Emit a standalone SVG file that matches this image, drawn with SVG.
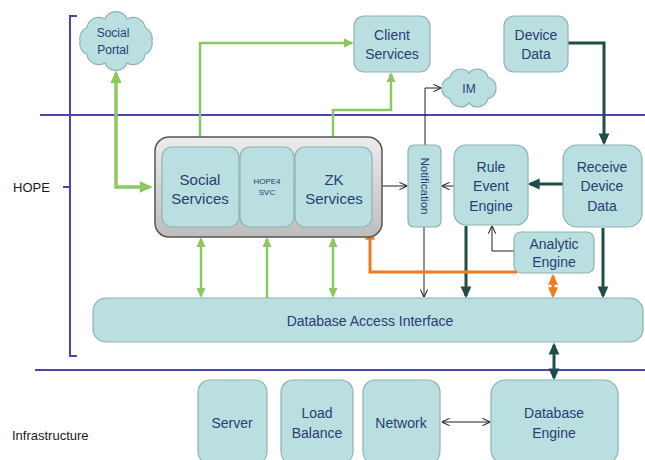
<svg xmlns="http://www.w3.org/2000/svg" width="645" height="460" viewBox="0 0 645 460">
<style>
.box{fill:#b9dfe1;stroke:#8fb1b4;stroke-width:1.2}
.t{font-family:"Liberation Sans",Arial,sans-serif;font-size:14px;fill:#2b3c72;text-anchor:middle}
.lab{font-family:"Liberation Sans",Arial,sans-serif;font-size:13px;fill:#1a1a1a}
.g{fill:none;stroke:#8cc860;stroke-width:2.5}
.dg{fill:none;stroke:#1f4d47;stroke-width:3}
.bk{fill:none;stroke:#222;stroke-width:1}
.or{fill:none;stroke:#f07a1e;stroke-width:3}
.bl{fill:none;stroke:#4b45b0;stroke-width:2}
</style>
<defs>
<linearGradient id="gray" x1="0" y1="0" x2="0" y2="1">
<stop offset="0" stop-color="#ececec"/><stop offset="1" stop-color="#bdbdbd"/>
</linearGradient>
<marker id="ag" viewBox="0 0 10 10" refX="8" refY="5" markerWidth="10" markerHeight="10" markerUnits="userSpaceOnUse" orient="auto-start-reverse"><path d="M0,0.5 L10,5 L0,9.5 z" fill="#8cc860"/></marker>
<marker id="agb" viewBox="0 0 10 10" refX="8" refY="5" markerWidth="13" markerHeight="13" markerUnits="userSpaceOnUse" orient="auto-start-reverse"><path d="M0,0.5 L10,5 L0,9.5 z" fill="#8cc860"/></marker>
<marker id="ad" viewBox="0 0 10 10" refX="8" refY="5" markerWidth="12" markerHeight="12" markerUnits="userSpaceOnUse" orient="auto-start-reverse"><path d="M0,0.5 L10,5 L0,9.5 z" fill="#1f4d47"/></marker>
<marker id="ao" viewBox="0 0 10 10" refX="8" refY="5" markerWidth="11" markerHeight="11" markerUnits="userSpaceOnUse" orient="auto-start-reverse"><path d="M0,0.5 L10,5 L0,9.5 z" fill="#f07a1e"/></marker>
<marker id="ak" viewBox="0 0 10 10" refX="9.5" refY="5" markerWidth="8" markerHeight="8" markerUnits="userSpaceOnUse" orient="auto-start-reverse"><path d="M0,0.5 L10,5 L0,9.5" fill="none" stroke="#222" stroke-width="1.3"/></marker>
</defs>

<g id="frame">
<path class="bl" d="M40,115 L645,115"/>
<path class="bl" d="M35,370 L645,370" stroke-width="2.5"/>
<path class="bl" d="M77,16 L70,16 L70,356 L77,356 M63,187 L70,187"/>
<text class="lab" x="13" y="192">HOPE</text>
<text class="lab" x="12" y="440">Infrastructure</text>
</g>

<g id="connectors">
<path class="g" style="stroke-width:3.5" d="M116,73 L116,187 L150,187" marker-start="url(#agb)" marker-end="url(#agb)"/>
<path class="g" d="M200,137 L200,43 L352,43" marker-end="url(#ag)"/>
<path class="g" d="M391,74 L391,110 L333,110 L333,145" marker-start="url(#ag)" marker-end="url(#ag)"/>
<path class="g" d="M201,239 L201,296" marker-start="url(#ag)" marker-end="url(#ag)"/>
<path class="g" d="M267,298 L267,239" marker-end="url(#ag)"/>
<path class="g" d="M333,239 L333,296" marker-start="url(#ag)" marker-end="url(#ag)"/>
<path class="bk" d="M382,186 L407,186" marker-end="url(#ak)"/>
<path class="bk" d="M454,186 L442,186" marker-end="url(#ak)"/>
<path class="bk" d="M425,145 L425,88 L441,88" marker-end="url(#ak)"/>
<path class="bk" d="M424,227 L424,297" marker-end="url(#ak)"/>
<path class="bk" d="M514,251 L492,251 L492,226" marker-end="url(#ak)"/>
<path class="bk" d="M442,422 L490,422" marker-start="url(#ak)" marker-end="url(#ak)"/>
<path class="dg" d="M568,43 L604,43 L604,143" marker-end="url(#ad)"/>
<path class="dg" d="M563,184 L530,184" marker-end="url(#ad)"/>
<path class="dg" d="M466,226 L466,296" marker-end="url(#ad)"/>
<path class="dg" d="M603,228 L603,296" marker-end="url(#ad)"/>
<path class="dg" d="M554,345 L554,378" marker-start="url(#ad)" marker-end="url(#ad)"/>
<path class="or" d="M517,272 L370,272 L370,231" marker-end="url(#ao)"/>
<path class="or" d="M553,276 L553,296" marker-start="url(#ao)" marker-end="url(#ao)"/>
</g>

<g id="social-portal">
<path class="box" d="M80,41 A12,12 0 0 1 86.9,27.5 A12,12 0 0 1 104.9,19.1 A12,12 0 0 1 127.1,19.1 A12,12 0 0 1 145.1,27.5 A12,12 0 0 1 152,41 A12,12 0 0 1 145.1,54.5 A12,12 0 0 1 127.1,62.9 A12,12 0 0 1 104.9,62.9 A12,12 0 0 1 86.9,54.5 A12,12 0 0 1 80,41 z"/>
<text class="t" style="font-size:12px" x="113" y="37">Social</text>
<text class="t" style="font-size:12px" x="113" y="54">Portal</text>
</g>

<g id="client-services">
<rect class="box" x="354" y="16" width="76" height="56" rx="10"/>
<text class="t" x="392" y="40">Client</text>
<text class="t" x="392" y="59">Services</text>
</g>

<g id="im">
<path class="box" d="M442,88 A10,10 0 0 1 449.9,77.4 A11,11 0 0 1 469,73 A11,11 0 0 1 488.1,77.4 A10,10 0 0 1 496,88 A10,10 0 0 1 488.1,98.6 A11,11 0 0 1 469,103 A11,11 0 0 1 449.9,98.6 A10,10 0 0 1 442,88 z"/>
<text class="t" style="font-size:12px" x="469" y="93">IM</text>
</g>

<g id="device-data">
<rect class="box" x="504" y="16" width="64" height="56" rx="10"/>
<text class="t" x="536" y="40">Device</text>
<text class="t" x="536" y="59">Data</text>
</g>

<g id="services-group">
<rect x="155" y="137" width="227" height="100" rx="14" fill="url(#gray)" stroke="#555" stroke-width="1.5"/>
</g>

<g id="social-services">
<rect class="box" x="162" y="147" width="77" height="80" rx="10"/>
<text class="t" style="font-size:15px" x="200" y="185">Social</text>
<text class="t" style="font-size:15px" x="200" y="204">Services</text>
</g>

<g id="hope4-svc">
<rect class="box" x="240" y="147" width="54" height="80" rx="10"/>
<text class="t" style="font-size:8px" x="267" y="184">HOPE4</text>
<text class="t" style="font-size:8px" x="267" y="195">SVC</text>
</g>

<g id="zk-services">
<rect class="box" x="295" y="147" width="77" height="80" rx="10"/>
<text class="t" style="font-size:15px" x="334" y="185">ZK</text>
<text class="t" style="font-size:15px" x="334" y="204">Services</text>
</g>

<g id="notification">
<rect class="box" x="408" y="145" width="33" height="82" rx="6"/>
<text class="t" style="font-size:11.5px" transform="translate(420.5,186) rotate(90)" x="0" y="0">Notification</text>
</g>

<g id="rule-event-engine">
<rect class="box" x="454" y="145" width="74" height="80" rx="12"/>
<text class="t" x="491" y="172">Rule</text>
<text class="t" x="491" y="191">Event</text>
<text class="t" x="491" y="211">Engine</text>
</g>

<g id="receive-device-data">
<rect class="box" x="563" y="145" width="79" height="82" rx="14"/>
<text class="t" x="602" y="172">Receive</text>
<text class="t" x="602" y="191">Device</text>
<text class="t" x="602" y="211">Data</text>
</g>

<g id="analytic-engine">
<rect class="box" x="514" y="232" width="80" height="41" rx="7"/>
<text class="t" x="554" y="249">Analytic</text>
<text class="t" x="554" y="267">Engine</text>
</g>

<g id="database-access-interface">
<rect class="box" x="93" y="298" width="550" height="44" rx="13"/>
<text class="t" x="370" y="326">Database Access Interface</text>
</g>

<g id="server">
<rect class="box" x="198" y="380" width="69" height="84" rx="12"/>
<text class="t" x="232" y="428">Server</text>
</g>

<g id="load-balance">
<rect class="box" x="281" y="380" width="72" height="84" rx="12"/>
<text class="t" x="317" y="418">Load</text>
<text class="t" x="317" y="438">Balance</text>
</g>

<g id="network">
<rect class="box" x="363" y="380" width="77" height="84" rx="12"/>
<text class="t" x="401" y="428">Network</text>
</g>

<g id="database-engine">
<rect class="box" x="491" y="380" width="127" height="84" rx="14"/>
<text class="t" x="554" y="418">Database</text>
<text class="t" x="554" y="438">Engine</text>
</g>
</svg>
